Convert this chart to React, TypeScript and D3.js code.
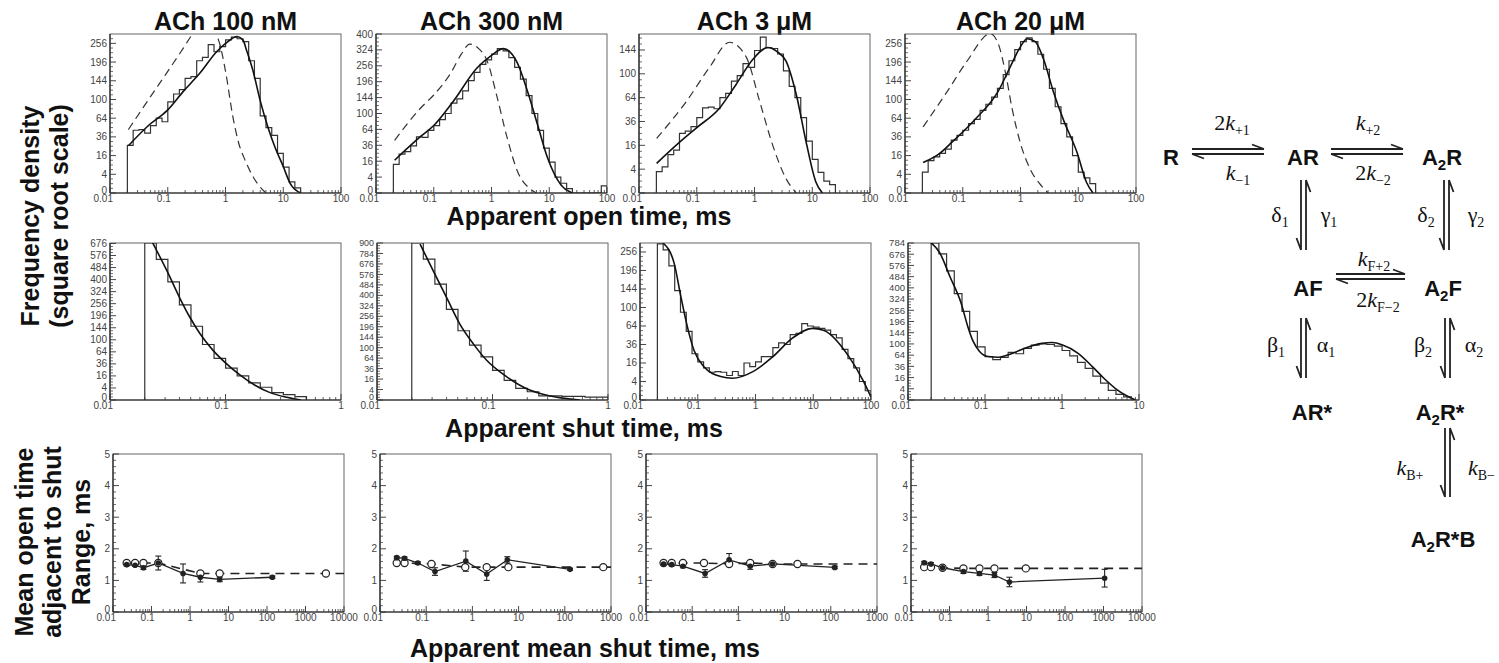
import React from "react";
import * as d3 from "d3";

// ======================= DATA =======================
const panelTitles = ["ACh 100 nM", "ACh 300 nM", "ACh 3 μM", "ACh 20 μM"];

// histogram bins: first lower edge and log-bin density
const HIST_FIRST_EDGE = 0.02;
const BINS_PER_DECADE = 10;

// ---- apparent open time histograms (sqrt scale frequency density)
const openHist100nM = [26, 45, 46, 41, 52, 64, 58, 95, 112, 122, 150, 155, 200, 210, 252, 228, 245, 268, 278, 272, 262, 200, 150, 68, 49, 38, 18, 7.6, 1.4, 0.3];
const openHist300nM = [13, 24, 27, 35, 50, 49, 62, 72, 85, 100, 128, 140, 165, 200, 230, 262, 280, 305, 330, 320, 290, 250, 205, 150, 100, 62, 32, 15, 4, 1.5, 0.3, 0, 0, 0, 0, 0, 0.8];
const openHist3uM = [3.2, 4.8, 10.4, 13, 25, 27, 31, 40, 51, 52, 50, 64, 70, 88, 97, 118, 111, 143, 171, 149, 147, 136, 105, 80, 64, 40, 19, 8, 3, 1, 0.5];
const openHist20uM = [5, 12, 15, 18, 22, 32, 38, 45, 55, 62, 78, 90, 105, 125, 160, 200, 235, 262, 275, 262, 220, 175, 125, 85, 55, 36, 16, 5, 2.6, 1];

// fitted (solid) and ideal (dashed) open-time curves [time ms, density]
const openFit100nM: [number, number][] = [[0.0208, 25.5], [0.049, 54], [0.096, 77], [0.186, 118], [0.364, 165], [0.707, 229], [1.1, 262], [1.58, 280], [2.0, 268], [2.35, 229], [3.0, 170], [4.0, 97], [5.5, 48], [7.2, 24], [10, 8], [13, 1.2], [20, 0]];
const openIdeal100nM: [number, number][] = [[0.0208, 46], [0.049, 104], [0.096, 165], [0.186, 240], [0.26, 285], [0.36, 325], [0.5, 335], [0.65, 300], [0.8, 252], [1.0, 170], [1.35, 65], [1.7, 28], [2.2, 12], [3, 3], [4, 0.4], [5, 0]];
const openFit300nM: [number, number][] = [[0.021, 17], [0.06, 51], [0.1, 72], [0.22, 134], [0.56, 247], [1.0, 300], [1.6, 330], [2.8, 268], [4.2, 164], [6.3, 73], [9.4, 19], [16, 1], [25, 0]];
const openIdeal300nM: [number, number][] = [[0.021, 44], [0.06, 115], [0.1, 152], [0.2, 230], [0.3, 305], [0.42, 351], [0.6, 330], [0.84, 276], [1.26, 143], [1.87, 48], [2.8, 7.7], [4.8, 0.2], [6, 0]];
const openFit3uM: [number, number][] = [[0.0202, 6.2], [0.05, 18], [0.098, 29.7], [0.25, 51], [0.48, 83], [0.94, 126], [1.7, 149], [2.5, 140], [3.5, 123], [5.3, 68], [7.8, 18.7], [11.5, 0.9], [15, 0]];
const openIdeal3uM: [number, number][] = [[0.0202, 21], [0.066, 59], [0.166, 111], [0.37, 160], [0.72, 130], [1.23, 59], [2.07, 16], [3.5, 1.5], [5.3, 0]];
const openFit20uM: [number, number][] = [[0.0206, 10.6], [0.04, 18], [0.065, 29.5], [0.16, 61], [0.41, 118], [0.7, 190], [1.0, 245], [1.3, 272], [1.8, 262], [2.5, 205], [3.7, 118], [5.5, 62], [9.5, 19], [14, 1.2], [18, 0]];
const openIdeal20uM: [number, number][] = [[0.0206, 50], [0.054, 118], [0.12, 200], [0.3, 290], [0.42, 250], [0.55, 165], [0.72, 80], [1.0, 28], [1.5, 6], [2.35, 0.5], [3, 0]];

// ---- apparent shut time histograms
const shutHist100nM = [680, 545, 385, 250, 150, 85, 48, 28, 16, 8, 4.5, 1.5, 0.8, 0.3];
const shutHist300nM = [900, 725, 490, 300, 175, 110, 68, 32, 14, 5, 2.5, 0.6, 0.6, 0.5, 0.5, 0.3, 0.3];
const shutHist3uM = [285, 263, 210, 140, 90, 55, 25, 17, 12, 9, 9.4, 9, 7, 9.5, 7, 16, 13, 17, 22, 22, 32, 38, 36, 50, 52, 68, 64, 62, 60, 57, 50, 45, 30, 20, 12, 4, 1];
const shutHist20uM = [784, 680, 530, 360, 250, 150, 90, 60, 52, 58, 72, 68, 85, 96, 100, 98, 92, 78, 62, 45, 32, 18, 9, 3, 1, 0.3];

const shutFit100nM: [number, number][] = [[0.0229, 700], [0.031, 463], [0.0404, 284], [0.049, 190], [0.06, 122], [0.078, 68], [0.1, 38], [0.134, 17], [0.18, 6], [0.243, 1.5], [0.34, 0.2], [0.45, 0]];
const shutFit300nM: [number, number][] = [[0.0236, 888], [0.0307, 608], [0.04, 384], [0.052, 212], [0.068, 116], [0.089, 57.6], [0.133, 19.5], [0.21, 3.6], [0.316, 0.6], [0.57, 0]];
const shutFit3uM: [number, number][] = [[0.025, 288], [0.039, 219], [0.051, 125], [0.066, 63], [0.086, 29], [0.128, 13], [0.25, 6.4], [0.4, 5.5], [0.9, 9.4], [2.0, 22], [4.4, 45], [9.7, 60], [15, 57], [41.5, 22], [72, 4.7], [100, 0.1]];
const shutFit20uM: [number, number][] = [[0.019, 800], [0.026, 686], [0.035, 485], [0.049, 298], [0.06, 170], [0.07, 110], [0.085, 75], [0.11, 60], [0.15, 58], [0.22, 68], [0.35, 88], [0.55, 102], [0.75, 105], [1.0, 97], [1.6, 70], [2.5, 35], [3.5, 15], [5, 4], [7, 0.5], [9, 0]];

// ---- axis ticks
const openXTicks = [["0.01", "0.1", "1", "10", "100"], ["0.01", "0.1", "1", "10", "100"], ["0.01", "0.1", "1", "10", "100"], ["0.01", "0.1", "1", "10", "100"]];
const openYTicks = [[0, 4, 16, 36, 64, 100, 144, 196, 256], [0, 4, 16, 36, 64, 100, 144, 196, 256, 324, 400], [0, 4, 16, 36, 64, 100, 144], [0, 4, 16, 36, 64, 100, 144, 196, 256]];
const openYMax = [289, 400, 178, 289];
const shutXTicks = [["0.01", "0.1", "1"], ["0.01", "0.1", "1"], ["0.01", "0.1", "1", "10", "100"], ["0.01", "0.1", "1", "10"]];
const shutYTicks = [[0, 4, 16, 36, 64, 100, 144, 196, 256, 324, 400, 484, 576, 676], [0, 4, 16, 36, 64, 100, 144, 196, 256, 324, 400, 484, 576, 676, 784, 900], [0, 4, 16, 36, 64, 100, 144, 196, 256], [0, 4, 16, 36, 64, 100, 144, 196, 256, 324, 400, 484, 576, 676, 784]];
const shutYMax = [680, 900, 288, 784];
const meanXTicks = [["0.01", "0.1", "1", "10", "100", "1000", "10000"], ["0.01", "0.1", "1", "10", "100", "1000"], ["0.01", "0.1", "1", "10", "100", "1000"], ["0.01", "0.1", "1", "10", "100", "1000", "10000"]];
const meanYTicks = [0, 1, 2, 3, 4, 5];

// ---- mean open time adjacent to shut-time range
// observed (filled, solid line, error bars)
const obsX100nM = [0.0227, 0.0375, 0.0617, 0.15, 0.66, 1.86, 5.9, 138];
const obsY100nM = [1.5, 1.48, 1.4, 1.55, 1.22, 1.1, 1.03, 1.1];
const obsErr100nM = [0.04, 0.04, 0.05, 0.22, 0.3, 0.15, 0.07, 0.04];
const obsX300nM = [0.023, 0.034, 0.066, 0.155, 0.72, 2.04, 5.7, 130];
const obsY300nM = [1.72, 1.7, 1.55, 1.28, 1.61, 1.2, 1.65, 1.35];
const obsErr300nM = [0.04, 0.04, 0.04, 0.12, 0.32, 0.2, 0.1, 0.03];
const obsX3uM = [0.024, 0.036, 0.063, 0.19, 0.63, 1.8, 5.5, 122];
const obsY3uM = [1.52, 1.5, 1.45, 1.22, 1.65, 1.45, 1.52, 1.41];
const obsErr3uM = [0.04, 0.04, 0.05, 0.12, 0.2, 0.1, 0.04, 0.04];
const obsX20uM = [0.022, 0.033, 0.066, 0.23, 0.6, 1.47, 3.6, 1070];
const obsY20uM = [1.56, 1.52, 1.4, 1.28, 1.22, 1.17, 0.95, 1.07];
const obsErr20uM = [0.04, 0.04, 0.04, 0.06, 0.06, 0.08, 0.15, 0.28];
// predicted (open circles, dashed line)
const predX100nM = [0.0227, 0.0375, 0.0617, 0.15, 1.86, 5.9, 3390];
const predY100nM = [1.55, 1.55, 1.55, 1.55, 1.22, 1.22, 1.22];
const predX300nM = [0.023, 0.034, 0.13, 0.7, 2.04, 6, 680];
const predY300nM = [1.55, 1.55, 1.52, 1.42, 1.42, 1.42, 1.42];
const predX3uM = [0.024, 0.036, 0.063, 0.18, 0.63, 1.8, 5.5, 19];
const predY3uM = [1.55, 1.55, 1.55, 1.55, 1.52, 1.55, 1.52, 1.52];
const predX20uM = [0.022, 0.033, 0.066, 0.23, 0.6, 1.47, 9.6];
const predY20uM = [1.42, 1.42, 1.4, 1.38, 1.38, 1.38, 1.38];

// ======================= LAYOUT =======================
const FONT_SANS = "'Liberation Sans', Arial, Helvetica, sans-serif";
const FONT_SERIF = "'Liberation Serif', 'Times New Roman', serif";
const PANEL_W = 231;
const TOP_ROW = { top: 34, bottom: 193, lefts: [110, 376, 639, 905] };
const MID_ROW = { top: 243, bottom: 400, lefts: [110, 377, 640, 908] };
const BOT_ROW = { top: 454, bottom: 612, lefts: [113, 380, 646, 911] };

type Pt = [number, number];

function histPoints(values: number[]): Pt[] {
  const pts: Pt[] = [];
  values.forEach((v, i) => {
    const a = HIST_FIRST_EDGE * Math.pow(10, i / BINS_PER_DECADE);
    const b = HIST_FIRST_EDGE * Math.pow(10, (i + 1) / BINS_PER_DECADE);
    if (i === 0) pts.push([a, 0]);
    pts.push([a, v], [b, v]);
  });
  const end = HIST_FIRST_EDGE * Math.pow(10, values.length / BINS_PER_DECADE);
  pts.push([end, 0]);
  return pts;
}

function minorLogTicks(domain: number[]) {
  const out: number[] = [];
  const e0 = Math.round(Math.log10(domain[0]));
  const e1 = Math.round(Math.log10(domain[1]));
  for (let e = e0; e < e1; e++) for (let k = 2; k <= 9; k++) out.push(k * Math.pow(10, e));
  return out;
}

function XLogAxis({ xs, yBottom, labels }: { xs: d3.ScaleLogarithmic<number, number>; yBottom: number; labels: string[] }) {
  const minors = minorLogTicks(xs.domain());
  return (
    <g>
      {minors.map((v, i) => (
        <line key={"m" + i} x1={xs(v)} x2={xs(v)} y1={yBottom} y2={yBottom - 3} stroke="#333" strokeWidth={0.8} />
      ))}
      {labels.map((s, i) => {
        const X = xs(+s);
        const frac = s.startsWith("0.");
        return (
          <g key={i}>
            <line x1={X} x2={X} y1={yBottom} y2={yBottom - 6} stroke="#333" strokeWidth={0.9} />
            <text x={frac ? X + 3 : X} y={yBottom + 9} textAnchor={frac ? "end" : "middle"} fontFamily={FONT_SANS} fontSize={10} fill="#444">
              {s}
            </text>
          </g>
        );
      })}
    </g>
  );
}

function HistPanel(props: {
  id: string; left: number; top: number; bottom: number; domain: [number, number];
  xLabels: string[]; yTicks: number[]; yMax: number; hist: number[]; fit: Pt[]; ideal?: Pt[];
}) {
  const { id, left, top, bottom, domain, xLabels, yTicks, yMax, hist, fit, ideal } = props;
  const xs = d3.scaleLog().domain(domain).range([left, left + PANEL_W]);
  const ys = d3.scaleSqrt().domain([0, yMax]).range([bottom, top]);
  const stepLine = d3.line<Pt>().x((d) => xs(d[0])).y((d) => ys(Math.max(0, d[1])));
  const smooth = d3.line<Pt>().x((d) => xs(d[0])).y((d) => ys(Math.max(0, d[1]))).curve(d3.curveMonotoneX);
  const minorY: number[] = [];
  for (let s = 0.5; s * s < yMax; s += 0.5) {
    const v = s * s;
    if (!yTicks.includes(v)) minorY.push(v);
  }
  const spacing = Math.abs(ys(yTicks[yTicks.length - 1]) - ys(yTicks[yTicks.length - 2]));
  const yFont = Math.min(10, spacing * 0.85);
  return (
    <g>
      <defs>
        <clipPath id={id}>
          <rect x={left} y={top} width={PANEL_W} height={bottom - top} />
        </clipPath>
      </defs>
      <rect x={left} y={top} width={PANEL_W} height={bottom - top} fill="none" stroke="#666" strokeWidth={1} />
      <g clipPath={`url(#${id})`}>
        <path d={stepLine(histPoints(hist)) || ""} fill="none" stroke="#333" strokeWidth={1.2} />
        {ideal && <path d={smooth(ideal) || ""} fill="none" stroke="#333" strokeWidth={1.2} strokeDasharray="8,5" />}
        <path d={smooth(fit) || ""} fill="none" stroke="#111" strokeWidth={1.6} />
      </g>
      <line x1={left} x2={left} y1={top} y2={bottom} stroke="#222" strokeWidth={1.2} />
      <line x1={left} x2={left + PANEL_W} y1={bottom} y2={bottom} stroke="#222" strokeWidth={1.2} />
      {minorY.map((v, i) => (
        <line key={"ym" + i} x1={left} x2={left + 3} y1={ys(v)} y2={ys(v)} stroke="#333" strokeWidth={0.7} />
      ))}
      {yTicks.map((v, i) => (
        <g key={"y" + i}>
          <line x1={left} x2={left + 6} y1={ys(v)} y2={ys(v)} stroke="#333" strokeWidth={0.9} />
          <text x={left - 3} y={ys(v) - (v === 0 ? 3 : 0)} dy="0.35em" textAnchor="end" fontFamily={FONT_SANS} fontSize={yFont} fill="#444">
            {v}
          </text>
        </g>
      ))}
      <XLogAxis xs={xs} yBottom={bottom} labels={xLabels} />
    </g>
  );
}

function MeanPanel(props: {
  left: number; top: number; bottom: number; domain: [number, number]; xLabels: string[];
  obsX: number[]; obsY: number[]; obsErr: number[]; predX: number[]; predY: number[];
}) {
  const { left, top, bottom, domain, xLabels, obsX, obsY, obsErr, predX, predY } = props;
  const xs = d3.scaleLog().domain(domain).range([left, left + PANEL_W]);
  const ys = d3.scaleLinear().domain([0, 5]).range([bottom, top]);
  const ln = d3.line<Pt>().x((d) => xs(d[0])).y((d) => ys(d[1]));
  const predPts: Pt[] = predX.map((x, i) => [x, predY[i]]);
  const predLine: Pt[] = [...predPts, [domain[1], predY[predY.length - 1]]];
  const obsPts: Pt[] = obsX.map((x, i) => [x, obsY[i]]);
  const minorY = d3.range(0, 5.001, 0.2).filter((v) => Math.abs(v - Math.round(v)) > 0.01);
  return (
    <g>
      <rect x={left} y={top} width={PANEL_W} height={bottom - top} fill="none" stroke="#666" strokeWidth={1} />
      <line x1={left} x2={left} y1={top} y2={bottom} stroke="#222" strokeWidth={1.2} />
      <line x1={left} x2={left + PANEL_W} y1={bottom} y2={bottom} stroke="#222" strokeWidth={1.2} />
      {minorY.map((v, i) => (
        <line key={"ym" + i} x1={left} x2={left + 3} y1={ys(v)} y2={ys(v)} stroke="#333" strokeWidth={0.7} />
      ))}
      {meanYTicks.map((v, i) => (
        <g key={"y" + i}>
          <line x1={left} x2={left + 6} y1={ys(v)} y2={ys(v)} stroke="#333" strokeWidth={0.9} />
          <text x={left - 3} y={ys(v) - (v === 0 ? 3 : 0)} dy="0.35em" textAnchor="end" fontFamily={FONT_SANS} fontSize={10} fill="#444">
            {v}
          </text>
        </g>
      ))}
      <XLogAxis xs={xs} yBottom={bottom} labels={xLabels} />
      <path d={ln(predLine) || ""} fill="none" stroke="#222" strokeWidth={1.6} strokeDasharray="9,6" />
      <path d={ln(obsPts) || ""} fill="none" stroke="#222" strokeWidth={1.3} />
      {obsPts.map((p, i) => {
        const X = xs(p[0]);
        const y1 = ys(p[1] + obsErr[i]);
        const y2 = ys(p[1] - obsErr[i]);
        return (
          <g key={"e" + i} stroke="#222" strokeWidth={1.1}>
            <line x1={X} x2={X} y1={y1} y2={y2} />
            <line x1={X - 3} x2={X + 3} y1={y1} y2={y1} />
            <line x1={X - 3} x2={X + 3} y1={y2} y2={y2} />
          </g>
        );
      })}
      {predPts.map((p, i) => (
        <circle key={"o" + i} cx={xs(p[0])} cy={ys(p[1])} r={3.6} fill="#fff" stroke="#222" strokeWidth={1.2} />
      ))}
      {obsPts.map((p, i) => (
        <circle key={"f" + i} cx={xs(p[0])} cy={ys(p[1])} r={2.8} fill="#222" />
      ))}
    </g>
  );
}

// ---------- kinetic scheme helpers ----------
function HHarpoons({ x1, x2, y }: { x1: number; x2: number; y: number }) {
  return (
    <g stroke="#222" strokeWidth={1.8} fill="none">
      <path d={`M${x1},${y}L${x2},${y}M${x2},${y}L${x2 - 12},${y - 4.5}`} />
      <path d={`M${x2},${y + 5}L${x1},${y + 5}M${x1},${y + 5}L${x1 + 12},${y + 9.5}`} />
    </g>
  );
}
function VHarpoons({ x, y1, y2 }: { x: number; y1: number; y2: number }) {
  return (
    <g stroke="#222" strokeWidth={1.8} fill="none">
      <path d={`M${x},${y1}L${x},${y2}M${x},${y2}L${x - 4.5},${y2 - 12}`} />
      <path d={`M${x + 5},${y2}L${x + 5},${y1}M${x + 5},${y1}L${x + 9.5},${y1 + 12}`} />
    </g>
  );
}
function State({ x, y, parts }: { x: number; y: number; parts: [string, boolean][] }) {
  let shifted = false;
  return (
    <text x={x} y={y} textAnchor="middle" fontFamily={FONT_SANS} fontWeight="bold" fontSize={22} fill="#111">
      {parts.map(([s, sub], i) => {
        let dy = 0;
        if (sub && !shifted) { dy = 5; shifted = true; } else if (!sub && shifted) { dy = -5; shifted = false; }
        return (
          <tspan key={i} dy={dy} fontSize={sub ? 15 : 22}>{s}</tspan>
        );
      })}
    </text>
  );
}
function Rate({ x, y, pre, main, sub, italic = true, anchor = "middle" }: { x: number; y: number; pre?: string; main: string; sub: string; italic?: boolean; anchor?: string }) {
  return (
    <text x={x} y={y} textAnchor={anchor} fontFamily={FONT_SERIF} fontSize={22} fill="#111">
      {pre && <tspan>{pre}</tspan>}
      <tspan fontStyle={italic ? "italic" : "normal"}>{main}</tspan>
      <tspan fontSize={14} dy={5}>{sub}</tspan>
    </text>
  );
}

function Scheme() {
  return (
    <g>
      <State x={1171} y={165} parts={[["R", false]]} />
      <State x={1303} y={165} parts={[["AR", false]]} />
      <State x={1442} y={165} parts={[["A", false], ["2", true], ["R", false]]} />
      <State x={1308} y={296} parts={[["AF", false]]} />
      <State x={1443} y={296} parts={[["A", false], ["2", true], ["F", false]]} />
      <State x={1312} y={420} parts={[["AR*", false]]} />
      <State x={1440} y={420} parts={[["A", false], ["2", true], ["R*", false]]} />
      <State x={1443} y={547} parts={[["A", false], ["2", true], ["R*B", false]]} />

      <HHarpoons x1={1192} x2={1264} y={149} />
      <HHarpoons x1={1331} x2={1403} y={149} />
      <HHarpoons x1={1336} x2={1405} y={274} />

      <Rate x={1232} y={130} pre="2" main="k" sub="+1" />
      <Rate x={1238} y={180} main="k" sub="−1" />
      <Rate x={1368} y={130} main="k" sub="+2" />
      <Rate x={1373} y={180} pre="2" main="k" sub="−2" />
      <Rate x={1374} y={266} main="k" sub="F+2" />
      <Rate x={1378} y={307} pre="2" main="k" sub="F−2" />

      <VHarpoons x={1301} y1={180} y2={250} />
      <VHarpoons x={1444} y1={180} y2={250} />
      <VHarpoons x={1301} y1={318} y2={378} />
      <VHarpoons x={1445} y1={318} y2={378} />
      <VHarpoons x={1445} y1={428} y2={497} />

      <Rate x={1280} y={222} main="δ" sub="1" italic={false} />
      <Rate x={1329} y={222} main="γ" sub="1" italic={false} />
      <Rate x={1426} y={222} main="δ" sub="2" italic={false} />
      <Rate x={1476} y={222} main="γ" sub="2" italic={false} />
      <Rate x={1276} y={352} main="β" sub="1" italic={false} />
      <Rate x={1326} y={352} main="α" sub="1" italic={false} />
      <Rate x={1423} y={352} main="β" sub="2" italic={false} />
      <Rate x={1474} y={352} main="α" sub="2" italic={false} />
      <Rate x={1410} y={475} main="k" sub="B+" />
      <Rate x={1468} y={475} main="k" sub="B−" anchor="start" />
    </g>
  );
}

const BIG = { fontFamily: FONT_SANS, fontWeight: "bold" as const, fontSize: 25, fill: "#111" };

export default function App() {
  const openHists = [openHist100nM, openHist300nM, openHist3uM, openHist20uM];
  const openFits = [openFit100nM, openFit300nM, openFit3uM, openFit20uM];
  const openIdeals = [openIdeal100nM, openIdeal300nM, openIdeal3uM, openIdeal20uM];
  const shutHists = [shutHist100nM, shutHist300nM, shutHist3uM, shutHist20uM];
  const shutFits = [shutFit100nM, shutFit300nM, shutFit3uM, shutFit20uM];
  const obsXs = [obsX100nM, obsX300nM, obsX3uM, obsX20uM];
  const obsYs = [obsY100nM, obsY300nM, obsY3uM, obsY20uM];
  const obsErrs = [obsErr100nM, obsErr300nM, obsErr3uM, obsErr20uM];
  const predXs = [predX100nM, predX300nM, predX3uM, predX20uM];
  const predYs = [predY100nM, predY300nM, predY3uM, predY20uM];

  return (
    <svg width={1499} height={663} style={{ position: "absolute", left: 0, top: 0, background: "#fff" }}>
      {panelTitles.map((t, i) => (
        <text key={t} x={TOP_ROW.lefts[i] + PANEL_W / 2} y={30} textAnchor="middle" {...BIG}>{t}</text>
      ))}
      {panelTitles.map((t, i) => {
        const xl = openXTicks[i];
        return (
          <HistPanel key={"o" + i} id={"clipO" + i} left={TOP_ROW.lefts[i]} top={TOP_ROW.top} bottom={TOP_ROW.bottom}
            domain={[+xl[0], +xl[xl.length - 1]]} xLabels={xl} yTicks={openYTicks[i]} yMax={openYMax[i]}
            hist={openHists[i]} fit={openFits[i]} ideal={openIdeals[i]} />
        );
      })}
      {panelTitles.map((t, i) => {
        const xl = shutXTicks[i];
        return (
          <HistPanel key={"s" + i} id={"clipS" + i} left={MID_ROW.lefts[i]} top={MID_ROW.top} bottom={MID_ROW.bottom}
            domain={[+xl[0], +xl[xl.length - 1]]} xLabels={xl} yTicks={shutYTicks[i]} yMax={shutYMax[i]}
            hist={shutHists[i]} fit={shutFits[i]} />
        );
      })}
      {panelTitles.map((t, i) => {
        const xl = meanXTicks[i];
        return (
          <MeanPanel key={"m" + i} left={BOT_ROW.lefts[i]} top={BOT_ROW.top} bottom={BOT_ROW.bottom}
            domain={[+xl[0], +xl[xl.length - 1]]} xLabels={xl}
            obsX={obsXs[i]} obsY={obsYs[i]} obsErr={obsErrs[i]} predX={predXs[i]} predY={predYs[i]} />
        );
      })}

      <text x={589} y={225} textAnchor="middle" {...BIG}>Apparent open time, ms</text>
      <text x={584} y={437} textAnchor="middle" {...BIG}>Apparent shut time, ms</text>
      <text x={585} y={657} textAnchor="middle" {...BIG}>Apparent mean shut time, ms</text>

      <text transform="translate(39,216) rotate(-90)" textAnchor="middle" {...BIG}>Frequency density</text>
      <text transform="translate(68,216) rotate(-90)" textAnchor="middle" {...BIG}>(square root scale)</text>
      <text transform="translate(33,542) rotate(-90)" textAnchor="middle" {...BIG}>Mean open time</text>
      <text transform="translate(61,542) rotate(-90)" textAnchor="middle" {...BIG}>adjacent to shut</text>
      <text transform="translate(90,542) rotate(-90)" textAnchor="middle" {...BIG}>Range, ms</text>

      <Scheme />
    </svg>
  );
}
